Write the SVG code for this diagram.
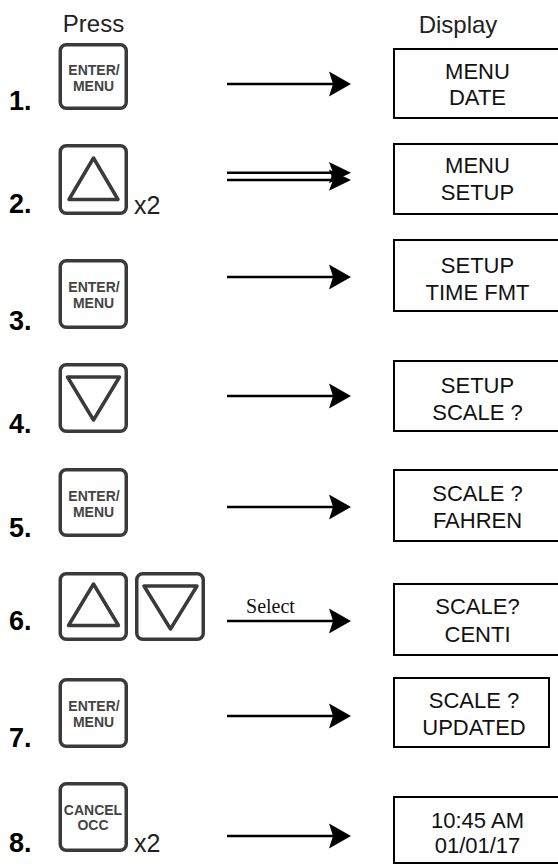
<svg xmlns="http://www.w3.org/2000/svg" width="558" height="865" viewBox="0 0 558 865">
<style>
.hdr{font-family:"Liberation Sans",Arial,sans-serif;font-size:24px;fill:#222;text-anchor:middle}
.num{font-family:"Liberation Sans",Arial,sans-serif;font-size:27px;font-weight:bold;fill:#000}
.x2{font-family:"Liberation Sans",Arial,sans-serif;font-size:25px;fill:#222}
.key{fill:#fff;stroke:#3a3a3a;stroke-width:3.5}
.tri{fill:none;stroke:#3a3a3a;stroke-width:3.5;stroke-linejoin:round}
.kt{font-family:"Liberation Sans",Arial,sans-serif;font-size:14px;font-weight:bold;fill:#444;text-anchor:middle}
.box{fill:#fff;stroke:#000;stroke-width:2}
.bt{font-family:"Liberation Sans",Arial,sans-serif;font-size:22px;fill:#111;text-anchor:middle}
.ln{stroke:#000;stroke-width:2.5;fill:none}
.sel{font-family:"Liberation Serif","Times New Roman",serif;font-size:20px;fill:#111;text-anchor:middle}
</style>
<defs>
<path id="ah" d="M0,0 L-22,-12.5 L-18,0 L-22,12.5 Z" fill="#000"/>
</defs>
<text class="hdr" x="93.5" y="32">Press</text>
<text class="hdr" x="458" y="33">Display</text>

<g id="row1-key">
<text class="num" x="9" y="110">1.</text>
<rect class="key" x="60.25" y="44.75" width="66" height="63.5" rx="6"/>
<text class="kt" x="94" y="75">ENTER/</text>
<text class="kt" x="93.5" y="91">MENU</text>
</g>
<g id="row2-key">
<text class="num" x="9" y="213">2.</text>
<rect class="key" x="60.25" y="145.75" width="66" height="67.5" rx="6"/>
<path class="tri" d="M93.5,158 L118,199.5 L69,199.5 Z"/>
<text class="x2" x="134" y="214">x2</text>
</g>
<g id="row3-key">
<text class="num" x="9" y="330">3.</text>
<rect class="key" x="60.25" y="260.75" width="66" height="66.5" rx="6"/>
<text class="kt" x="94" y="292">ENTER/</text>
<text class="kt" x="93.5" y="308">MENU</text>
</g>
<g id="row4-key">
<text class="num" x="9" y="433">4.</text>
<rect class="key" x="60.25" y="364.75" width="66" height="66.5" rx="6"/>
<path class="tri" d="M67.5,377 L119.5,377 L93.5,420 Z"/>
</g>
<g id="row5-key">
<text class="num" x="9" y="537">5.</text>
<rect class="key" x="60.25" y="469.75" width="66" height="65.5" rx="6"/>
<text class="kt" x="94" y="501">ENTER/</text>
<text class="kt" x="93.5" y="517">MENU</text>
</g>
<g id="row6-keys">
<text class="num" x="9" y="630">6.</text>
<rect class="key" x="60.25" y="573.75" width="66" height="65.5" rx="6"/>
<path class="tri" d="M93.5,584 L118.5,625.5 L68.5,625.5 Z"/>
<rect class="key" x="136.75" y="573.75" width="66.5" height="65.5" rx="6"/>
<path class="tri" d="M144,586 L197,586 L170.5,629 Z"/>
</g>
<g id="row7-key">
<text class="num" x="9" y="747">7.</text>
<rect class="key" x="60.25" y="679.75" width="66" height="66.5" rx="6"/>
<text class="kt" x="94" y="711">ENTER/</text>
<text class="kt" x="93.5" y="727">MENU</text>
</g>
<g id="row8-key">
<text class="num" x="9" y="852">8.</text>
<rect class="key" x="60.25" y="783.75" width="66" height="66.5" rx="6"/>
<text class="kt" x="93" y="815">CANCEL</text>
<text class="kt" x="93" y="830">OCC</text>
<text class="x2" x="134" y="852">x2</text>
</g>

<g id="connectors">
<line class="ln" x1="227" y1="84" x2="335" y2="84"/>
<use href="#ah" transform="translate(351,84)"/>
<line class="ln" x1="227" y1="172.7" x2="335" y2="172.7"/>
<line class="ln" x1="227" y1="180" x2="335" y2="180"/>
<use href="#ah" transform="translate(351,172.7) scale(1,0.85)"/>
<use href="#ah" transform="translate(351,180) scale(1,0.85)"/>
<line class="ln" x1="227" y1="277" x2="335" y2="277"/>
<use href="#ah" transform="translate(351,277)"/>
<line class="ln" x1="227" y1="396" x2="335" y2="396"/>
<use href="#ah" transform="translate(351,396)"/>
<line class="ln" x1="227" y1="507" x2="335" y2="507"/>
<use href="#ah" transform="translate(351,507)"/>
<line class="ln" x1="227" y1="621" x2="335" y2="621"/>
<use href="#ah" transform="translate(351,621)"/>
<text class="sel" x="270.5" y="613">Select</text>
<line class="ln" x1="227" y1="716" x2="335" y2="716"/>
<use href="#ah" transform="translate(351,716)"/>
<line class="ln" x1="227" y1="836" x2="335" y2="836"/>
<use href="#ah" transform="translate(351,836)"/>
</g>

<g id="disp1">
<rect class="box" x="394" y="49" width="168" height="69"/>
<text class="bt" x="477.5" y="79">MENU</text>
<text class="bt" x="477.5" y="105">DATE</text>
</g>
<g id="disp2">
<rect class="box" x="394" y="144" width="168" height="70"/>
<text class="bt" x="477.5" y="173">MENU</text>
<text class="bt" x="477.5" y="200">SETUP</text>
</g>
<g id="disp3">
<rect class="box" x="394" y="240" width="168" height="71"/>
<text class="bt" x="477.5" y="273">SETUP</text>
<text class="bt" x="477.5" y="300">TIME FMT</text>
</g>
<g id="disp4">
<rect class="box" x="394" y="361" width="168" height="70"/>
<text class="bt" x="477.5" y="393">SETUP</text>
<text class="bt" x="477.5" y="420">SCALE ?</text>
</g>
<g id="disp5">
<rect class="box" x="394" y="470" width="168" height="71"/>
<text class="bt" x="477.5" y="501">SCALE ?</text>
<text class="bt" x="477.5" y="528">FAHREN</text>
</g>
<g id="disp6">
<rect class="box" x="394" y="584" width="168" height="71"/>
<text class="bt" x="477.5" y="614">SCALE?</text>
<text class="bt" x="477.5" y="642">CENTI</text>
</g>
<g id="disp7">
<rect class="box" x="394" y="678" width="155" height="69"/>
<text class="bt" x="474" y="708">SCALE ?</text>
<text class="bt" x="474" y="735">UPDATED</text>
</g>
<g id="disp8">
<rect class="box" x="394" y="797" width="168" height="66"/>
<text class="bt" x="477.5" y="828">10:45 AM</text>
<text class="bt" x="477.5" y="853">01/01/17</text>
</g>
</svg>
